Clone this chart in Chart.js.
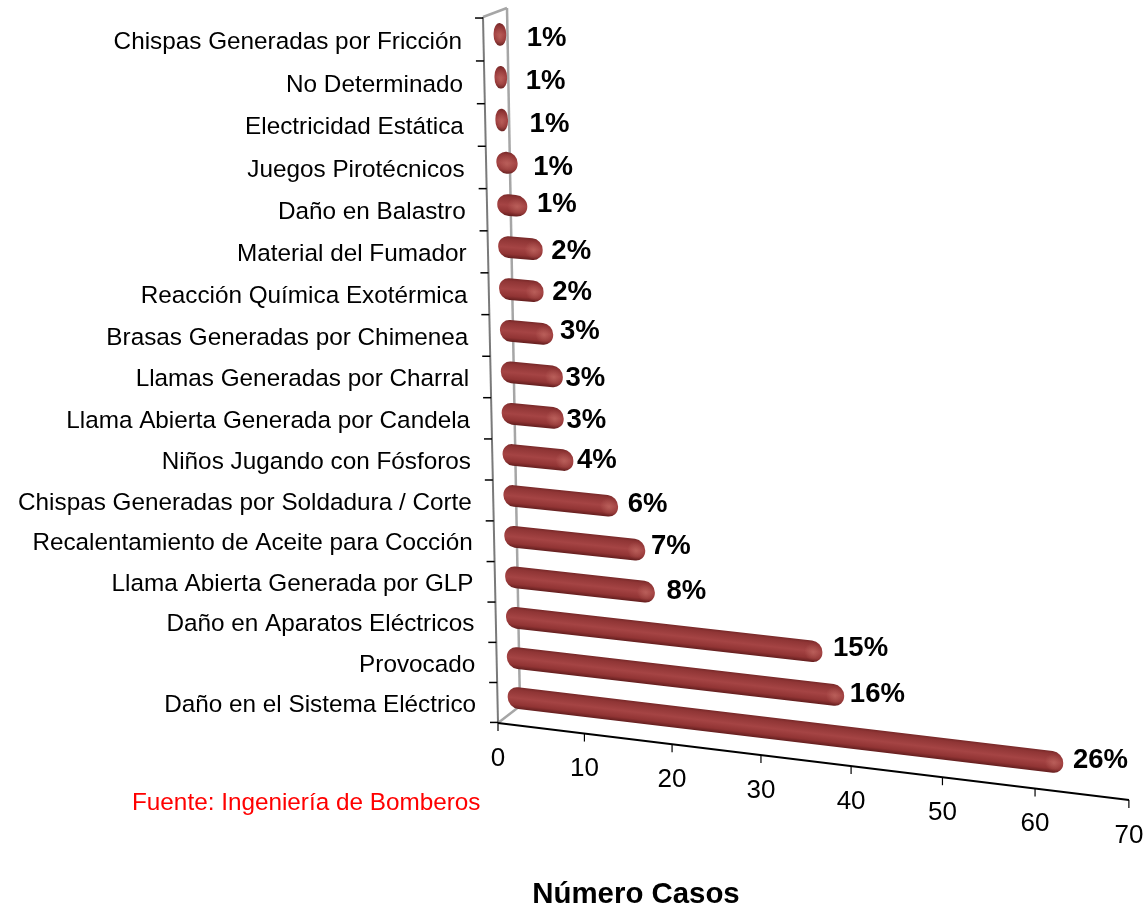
<!DOCTYPE html>
<html lang="es">
<head>
    <meta charset="UTF-8">
    <title>Número Casos</title>
    <script src="https://cdn.jsdelivr.net/npm/chart.js@4.4.0/dist/chart.umd.js"></script>
    <style>
        body { margin: 0; background: #fff; }
        canvas { display: block; }
    </style>
</head>
<body>
    <canvas id="casosChart" width="1146" height="908"></canvas>
    <script>
        const categorias = [
            'Chispas Generadas por Fricción', 'No Determinado', 'Electricidad Estática',
            'Juegos Pirotécnicos', 'Daño en Balastro', 'Material del Fumador',
            'Reacción Química Exotérmica', 'Brasas Generadas por Chimenea', 'Llamas Generadas por Charral',
            'Llama Abierta Generada por Candela', 'Niños Jugando con Fósforos', 'Chispas Generadas por Soldadura / Corte',
            'Recalentamiento de Aceite para Cocción', 'Llama Abierta Generada por GLP', 'Daño en Aparatos Eléctricos',
            'Provocado', 'Daño en el Sistema Eléctrico'
        ];
        const casos = [1, 1, 1, 2, 3, 5, 5, 6, 7, 7, 8, 13, 16, 17, 36, 38, 62];
        const porcentajes = ['1%', '1%', '1%', '1%', '1%', '2%', '2%', '3%', '3%', '3%', '4%', '6%', '7%', '8%', '15%', '16%', '26%'];
        const ticksCasos = [0, 10, 20, 30, 40, 50, 60, 70];

        // hand placed data labels, offset from the end of each bar
        const labelDx = [21, 19, 22, 16, 10, 9, 9, 7, 3, 3, 4, 10, 6, 12, 11, 6, 10];
        const labelDy = [3, 3, 3, 3, -3, 0, -1, -4, 0, 1, -2, -3, -5, -2, -5, -3, -4];

        const FONT = '"Liberation Sans", Arial, sans-serif';
        const BAR_H = 21;

        // fake 3d: rows get closer together towards the front
        function rowY(y) {
            const t = (y - 34) / 663;
            return y + 24 * t * (1 - t);
        }
        function slopeAt(Y) { return 0.119 - (697 - Y) * 0.0000776; }
        function startX(Y) { return 508 - (697 - Y) * 0.0211; }
        function leftAxisX(y) { return 483 + (y - 17) * 15 / 706; }

        // where a bar ends up on screen
        function barGeometry(bar) {
            const Y = rowY(bar.y);
            const w = bar.x - bar.base;
            let W = w * Math.max(0.98, 1 - (697 - Y) * 0.00025);
            if (w < 30) W += 3;
            const b = slopeAt(Y);
            return { Y, w, W, b, X0: startX(Y), endX: startX(Y) + W, endY: Y + b * W };
        }

        function cylinderFill(ctx, y, h) {
            const g = ctx.createLinearGradient(0, y - h / 2, 0, y + h / 2);
            g.addColorStop(0, '#7a2a2a');
            g.addColorStop(0.12, '#8f3535');
            g.addColorStop(0.5, '#a54444');
            g.addColorStop(0.82, '#913434');
            g.addColorStop(1, '#672020');
            return g;
        }

        const drawBar = Chart.BarElement.prototype.draw;
        Chart.BarElement.prototype.draw = function (ctx) {
            const g = barGeometry(this);
            const oval = g.w < BAR_H;
            const h = oval ? g.w : BAR_H;
            const sx = g.W / g.w;
            const opts = this.options, height = this.height;

            ctx.save();
            ctx.translate(g.X0, g.Y);
            ctx.transform(sx, g.b * sx, 0, BAR_H / h, 0, 0);
            ctx.translate(-this.base, -this.y);
            this.options = Object.assign({}, opts, { backgroundColor: cylinderFill(ctx, this.y, h) });
            this.height = h;
            drawBar.call(this, ctx);
            this.options = opts;
            this.height = height;

            // light spot on the end cap
            const r = Math.min(9, g.w / 2);
            const cx = this.x - r, cy = this.y + 1;
            const spot = ctx.createRadialGradient(cx, cy, 0, cx, cy, r);
            spot.addColorStop(0, 'rgba(206,122,112,0.5)');
            spot.addColorStop(1, 'rgba(206,122,112,0)');
            ctx.fillStyle = spot;
            ctx.beginPath();
            ctx.arc(cx, cy, r, 0, Math.PI * 2);
            ctx.fill();
            ctx.restore();
        };

        function xTickX(v) { return 498 + 8.58 * v + 0.00618 * v * v; }
        function xAxisY(x) { return 723 + (x - 498) * 0.122; }

        function line(ctx, x1, y1, x2, y2, color, width) {
            ctx.strokeStyle = color;
            ctx.lineWidth = width;
            ctx.beginPath();
            ctx.moveTo(x1, y1);
            ctx.lineTo(x2, y2);
            ctx.stroke();
        }

        const ejes3d = {
            id: 'ejes3d',
            beforeDatasetsDraw(chart) {
                const ctx = chart.ctx, yScale = chart.scales.y;
                ctx.save();
                ctx.lineJoin = 'round';
                line(ctx, 483, 17, 507, 8, '#a6a6a6', 2.5);
                line(ctx, 507, 8, 520, 706, '#a6a6a6', 2.5);
                line(ctx, 520, 706, 498, 723, '#a6a6a6', 2.5);
                line(ctx, 483, 17, 498, 723, '#7a7a7a', 2);

                // category ticks sit on the band edges
                const step = yScale.getPixelForTick(1) - yScale.getPixelForTick(0);
                for (let i = 0; i <= categorias.length; i++) {
                    const y = rowY(yScale.getPixelForTick(0) + (i - 0.5) * step) + 5.5;
                    const x = leftAxisX(y);
                    line(ctx, x - 8, y, x, y, '#000', 1.5);
                }

                line(ctx, 498, 723, 1129, 800, '#000', 2);
                chart.scales.x.ticks.forEach(t => {
                    const x = xTickX(t.value), y = xAxisY(x);
                    line(ctx, x, y, x, y + 8, '#000', 1.2);
                });
                ctx.restore();
            },
            afterDatasetsDraw(chart) {
                const ctx = chart.ctx, yScale = chart.scales.y;
                ctx.save();
                ctx.textBaseline = 'middle';
                ctx.fillStyle = '#000';

                ctx.textAlign = 'right';
                ctx.font = '24.3px ' + FONT;
                chart.data.labels.forEach((name, i) => {
                    const y = rowY(yScale.getPixelForTick(i)) + 8;
                    ctx.fillText(name, leftAxisX(y) - 21.5, y);
                });

                ctx.textAlign = 'center';
                ctx.font = '26px ' + FONT;
                chart.scales.x.ticks.forEach(t => {
                    const x = xTickX(t.value);
                    ctx.fillText(String(t.value), x, xAxisY(x) + 35.5);
                });

                ctx.textAlign = 'left';
                ctx.font = 'bold 27.5px ' + FONT;
                chart.getDatasetMeta(0).data.forEach((bar, i) => {
                    const g = barGeometry(bar);
                    ctx.fillText(porcentajes[i], g.endX + labelDx[i], g.endY + labelDy[i] + 1);
                });

                ctx.font = '24.3px ' + FONT;
                ctx.fillStyle = '#ff0000';
                ctx.fillText('Fuente: Ingeniería de Bomberos', 132, 803);

                ctx.textAlign = 'center';
                ctx.font = 'bold 29.4px ' + FONT;
                ctx.fillStyle = '#000';
                ctx.fillText('Número Casos', 636, 895);
                ctx.restore();
            }
        };

        new Chart(document.getElementById('casosChart').getContext('2d'), {
            type: 'bar',
            data: {
                labels: categorias,
                datasets: [{
                    label: 'Número Casos',
                    data: casos,
                    backgroundColor: '#a54444',
                    barThickness: BAR_H,
                    borderRadius: BAR_H / 2,
                    borderSkipped: false,
                    clip: false
                }]
            },
            options: {
                indexAxis: 'y',
                responsive: false,
                animation: false,
                layout: { padding: { left: 508, right: 11.5, top: 13.3, bottom: 190.3 } },
                scales: {
                    x: { display: false, min: 0, max: 70, afterBuildTicks: s => { s.ticks = ticksCasos.map(value => ({ value })); } },
                    y: { display: false }
                },
                plugins: { legend: { display: false }, tooltip: { enabled: false } }
            },
            plugins: [ejes3d]
        });
    </script>
</body>
</html>
